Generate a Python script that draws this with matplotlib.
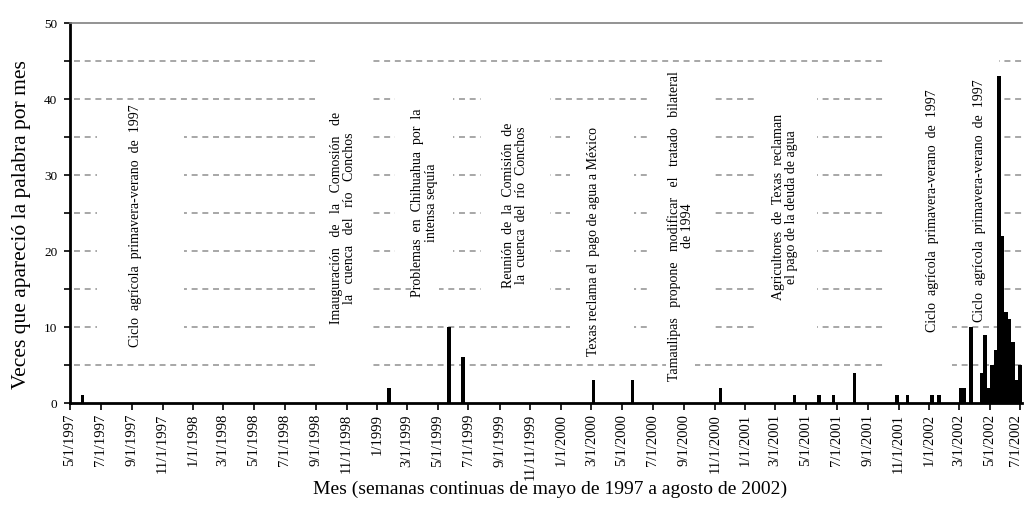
import matplotlib
matplotlib.use('Agg')
import matplotlib.pyplot as plt
import matplotlib.transforms as mtransforms
import pandas as pd
from matplotlib.patches import Rectangle

plt.rcParams['font.family'] = ['Liberation Serif', 'DejaVu Serif']
plt.rcParams['lines.scale_dashes'] = False

INICIO = pd.Timestamp('1997-05-01')

# semanas (inicio) con menciones y numero de veces
semanas = ['1997-05-22', '1999-01-21', '1999-05-20', '1999-06-17', '2000-03-02',
           '2000-05-18', '2000-11-09', '2001-04-05', '2001-05-24', '2001-06-21',
           '2001-08-02', '2001-10-25', '2001-11-15', '2002-01-03', '2002-01-17',
           '2002-02-28', '2002-03-07', '2002-03-21', '2002-04-11', '2002-04-18',
           '2002-04-25', '2002-05-02', '2002-05-09', '2002-05-16', '2002-05-23',
           '2002-05-30', '2002-06-06', '2002-06-13', '2002-06-20', '2002-06-27']
conteos = [1, 2, 10, 6, 3,
           3, 2, 1, 1, 1,
           4, 1, 1, 1, 1,
           2, 2, 10, 4, 9,
           2, 5, 7, 43, 22,
           12, 11, 8, 3, 5]

fechas_ticks = ['1997-05-01', '1997-07-01', '1997-09-01', '1997-11-01', '1998-01-01',
                '1998-03-01', '1998-05-01', '1998-07-01', '1998-09-01', '1998-11-01',
                '1999-01-01', '1999-03-01', '1999-05-01', '1999-07-01', '1999-09-01',
                '1999-11-01', '2000-01-01', '2000-03-01', '2000-05-01', '2000-07-01',
                '2000-09-01', '2000-11-01', '2001-01-01', '2001-03-01', '2001-05-01',
                '2001-07-01', '2001-09-01', '2001-11-01', '2002-01-01', '2002-03-01',
                '2002-05-01', '2002-07-01']
etiquetas_ticks = ['5/1/1997', '7/1/1997', '9/1/1997', '11/1/1997', '1/1/1998',
                   '3/1/1998', '5/1/1998', '7/1/1998', '9/1/1998', '11/1/1998',
                   '1/1999', '3/1/1999', '5/1/1999', '7/1/1999', '9/1/1999',
                   '11/11/1999', '1/1/2000', '3/1/2000', '5/1/2000', '7/1/2000',
                   '9/1/2000', '11/1/2000', '1/1/2001', '3/1/2001', '5/1/2001',
                   '7/1/2001', '9/1/2001', '11/1/2001', '1/1/2002', '3/1/2002',
                   '5/1/2002', '7/1/2002']

eventos = ['Ciclo  agrícola  primavera-verano  de  1997',
           'Imauguración   de   la   Comosión   de\nla   cuenca   del   río   Conchos',
           'Problemas  en  Chihuahua  por  la\nintensa sequía',
           'Reunión  de  la  Comisión  de\nla  cuenca  del  río  Conchos',
           'Texas reclama el  pago de agua a México',
           'Tamaulipas   propone   modificar   el   tratado   bilateral\nde 1994',
           'Agricultores  de  Texas  reclaman\nel pago de la deuda de agua',
           'Ciclo  agrícola  primavera-verano  de  1997',
           'Ciclo  agrícola  primavera-verano  de  1997']


def dias(f):
    return (pd.Timestamp(f) - INICIO).days


x_bar = [dias(s) for s in semanas]
x_ticks = [dias(f) for f in fechas_ticks]

fig = plt.figure(figsize=(10.24, 5.05), dpi=100)
ax = fig.add_axes([70 / 1024, 1 - 403 / 505, 952 / 1024, 380 / 505])

# lineas punteadas
for yv in range(5, 50, 5):
    ax.plot([8, 1890], [yv, yv], color='#a0a0a0', lw=1.3,
            dashes=(4.3, 3.4), zorder=1)

# cajas blancas de las anotaciones (dias, y)
cajas = [(54, 226, 6, 39), (486, 595, 2, 48), (645, 760, 16.5, 42.5),
         (815, 952, 11, 42.5), (992, 1119, 6, 37.5), (1151, 1278, 6, 43),
         (1363, 1484, 6, 42.5), (1619, 1752, 2, 47), (1752, 1845, 12, 47)]
for x0, x1, y0, y1 in cajas:
    ax.add_patch(Rectangle((x0, y0), x1 - x0, y1 - y0, facecolor='white',
                           edgecolor='none', zorder=2))

ax.bar(x_bar, conteos, width=7, align='edge', color='black', zorder=3)

pos_eventos = [(131, 23.3), (542, 24.3), (704, 26.3), (883, 26.0), (1040, 21.2),
               (1212, 23.3), (1419, 25.8), (1712, 25.3), (1805, 26.6)]
for (xe, ye), t in zip(pos_eventos, eventos):
    ax.text(xe, ye, t, rotation=90, ha='center', va='center', fontsize=10,
            multialignment='center', linespacing=1.05, zorder=4,
            bbox=dict(facecolor='white', edgecolor='none', pad=0.5))

ax.set_xlim(0, 1890)
ax.set_ylim(0, 50)
ax.set_xticks(x_ticks)
ax.set_xticklabels(etiquetas_ticks, rotation=90, fontsize=10.5)
ax.set_yticks(range(0, 51, 10))
ax.set_yticks(range(5, 50, 10), minor=True)
ax.tick_params(axis='y', which='both', direction='out', length=4, width=1.2,
               labelsize=9.5, pad=5)
ax.tick_params(axis='x', direction='out', length=5, width=1.2, pad=3)

# la ultima etiqueta un poco a la izquierda para que no se corte
ultima = ax.get_xticklabels()[-1]
ultima.set_transform(ultima.get_transform() +
                     mtransforms.ScaledTranslation(-5 / 100, 0, fig.dpi_scale_trans))

ax.spines['left'].set_linewidth(2)
ax.spines['bottom'].set_linewidth(2)
ax.spines['top'].set_color('#808080')
ax.spines['top'].set_linewidth(1.2)
ax.spines['right'].set_visible(False)

fig.text(22 / 1024, 1 - 225 / 505, 'Veces que apareció la palabra por mes',
         rotation=90, ha='center', va='center', fontsize=15.5)
fig.text(550 / 1024, 1 - 489 / 505,
         'Mes (semanas continuas de mayo de 1997 a agosto de 2002)',
         ha='center', va='center', fontsize=14)

fig.savefig('out.png', dpi=100)
